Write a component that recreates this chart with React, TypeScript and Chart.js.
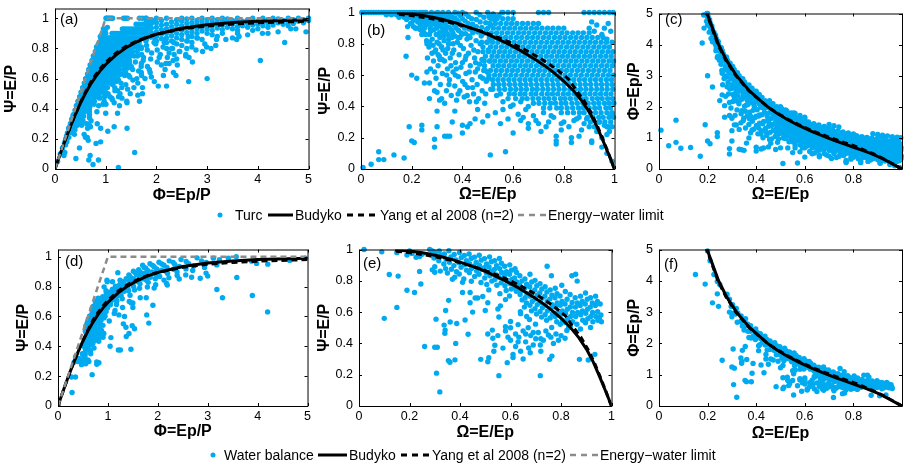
import React, { useEffect, useRef } from 'react';
import { Chart, registerables } from 'chart.js';

Chart.register(...registerables);

// ---------------- DATA ----------------
// Reference curves, read as (Phi = Ep/P, Psi = E/P)
const curvePhi = [0, 0.02, 0.05, 0.1, 0.2, 0.3, 0.4, 0.5, 0.6, 0.7, 0.8, 0.9, 1.0, 1.2, 1.4, 1.6, 1.8, 2.0, 2.5, 3.0, 3.5, 4.0, 5.0, 7.0, 10, 20, 100, 1000];
const budykoPsi = [0, 0.0199, 0.0494, 0.0976, 0.1904, 0.2785, 0.3607, 0.4355, 0.5022, 0.5604, 0.6113, 0.6555, 0.6938, 0.7562, 0.8043, 0.8415, 0.8709, 0.894, 0.9338, 0.9573, 0.9717, 0.9807, 0.9901, 0.9962, 0.9983, 0.9996, 1.0, 1.0];
const yangPsi = [0, 0.0199, 0.0494, 0.0977, 0.1908, 0.2795, 0.3625, 0.4395, 0.508, 0.5735, 0.6247, 0.669, 0.7071, 0.7682, 0.8137, 0.848, 0.8742, 0.8944, 0.9285, 0.9487, 0.9615, 0.9701, 0.9806, 0.9899, 0.995, 0.9988, 0.99995, 1.0];
const limitPhi = [0, 1, 5];
const limitPsi = [0, 1, 1];

// Turc: upper band, columns of Phi with Psi values
const turcBandPhi = [1.8, 1.9, 2.0, 2.1, 2.2, 2.3, 2.4, 2.5, 2.6, 2.7, 2.8, 2.9, 3.0, 3.1, 3.2, 3.3, 3.4, 3.5, 3.6, 3.7, 3.8, 3.9, 4.0, 4.1, 4.2, 4.3, 4.4, 4.5, 4.6, 4.7, 4.8, 4.9, 5.0];
const turcBandPsi = [
  [0.86, 0.89, 0.92, 0.95, 0.98, 1.0], [0.875, 0.905, 0.935, 0.965, 0.99], [0.85, 0.88, 0.91, 0.94, 0.97, 1.0],
  [0.865, 0.895, 0.925, 0.955, 0.985], [0.87, 0.9, 0.93, 0.96, 1.0], [0.885, 0.915, 0.945, 0.975],
  [0.87, 0.9, 0.93, 0.96, 0.99], [0.89, 0.92, 0.95, 0.98, 1.0], [0.905, 0.935, 0.965, 0.995],
  [0.88, 0.91, 0.94, 0.97, 1.0], [0.9, 0.93, 0.96, 0.985], [0.915, 0.945, 0.975, 1.0],
  [0.9, 0.93, 0.96, 0.99], [0.92, 0.95, 0.975, 1.0], [0.935, 0.965, 0.99], [0.925, 0.955, 0.98, 1.0],
  [0.94, 0.97, 0.995], [0.93, 0.96, 0.985], [0.945, 0.975, 1.0], [0.95, 0.98], [0.94, 0.965, 0.99],
  [0.955, 0.985, 1.0], [0.96, 0.98], [0.95, 0.975, 1.0], [0.965, 0.99], [0.955, 0.98, 1.0],
  [0.97, 0.995], [0.96, 0.985], [0.975, 1.0], [0.965, 0.99], [0.98, 1.0], [0.97, 0.99], [0.985, 1.0],
];
// Turc: scattered dry points as [Phi, Psi]
const turcSparsePhiPsi = [
  [3.0, 0.6], [4.05, 0.72], [4.53, 0.84], [4.95, 0.91], [4.4, 0.91], [4.2, 0.9], [4.75, 0.93], [3.8, 0.89], [3.63, 0.88],
  [3.5, 0.87], [3.37, 0.86], [3.17, 0.82], [2.99, 0.81], [2.78, 0.79], [2.58, 0.76], [2.4, 0.73], [2.25, 0.7], [2.9, 0.86],
  [2.7, 0.84], [2.5, 0.82], [2.3, 0.8], [3.2, 0.88], [2.6, 0.8], [2.45, 0.78], [2.35, 0.76], [2.5, 0.86], [2.2, 0.84],
  [2.3, 0.85], [2.6, 0.85], [2.8, 0.87], [3.1, 0.89], [3.3, 0.9], [3.6, 0.92], [4.0, 0.93], [4.6, 0.95], [2.2, 0.8],
  [2.25, 0.77], [2.4, 0.83], [3.9, 0.92], [4.2, 0.94],
];
// Turc: dense core, rows of Psi with the Omega values seen on each row
const turcRowPsi = [0.27, 0.3, 0.33, 0.36, 0.39, 0.42, 0.45, 0.48, 0.51, 0.54, 0.57, 0.6, 0.63, 0.66, 0.69, 0.72, 0.75, 0.78, 0.81, 0.84, 0.87, 0.9, 0.93, 0.96, 0.98];
const turcRowOmega = [
  [0.975, 0.99],
  [0.905, 0.94, 0.962, 0.985],
  [0.86, 0.893, 0.915, 0.938, 0.955, 0.978, 0.996],
  [0.79, 0.815, 0.838, 0.862, 0.88, 0.905, 0.925, 0.947, 0.97, 0.99],
  [0.72, 0.745, 0.772, 0.79, 0.813, 0.835, 0.858, 0.877, 0.9, 0.922, 0.941, 0.966, 0.984],
  [0.68, 0.702, 0.725, 0.748, 0.767, 0.79, 0.808, 0.832, 0.853, 0.875, 0.896, 0.918, 0.938, 0.96, 0.979, 0.997],
  [0.61, 0.636, 0.655, 0.678, 0.7, 0.722, 0.741, 0.763, 0.787, 0.805, 0.826, 0.848, 0.87, 0.888, 0.912, 0.933, 0.951, 0.973, 0.992],
  [0.55, 0.585, 0.605, 0.628, 0.647, 0.671, 0.69, 0.713, 0.735, 0.755, 0.776, 0.798, 0.818, 0.84, 0.861, 0.882, 0.903, 0.924, 0.945, 0.966, 0.986],
  [0.52, 0.545, 0.567, 0.59, 0.611, 0.632, 0.653, 0.676, 0.695, 0.717, 0.738, 0.76, 0.781, 0.802, 0.824, 0.845, 0.866, 0.887, 0.908, 0.93, 0.95, 0.971, 0.993],
  [0.522, 0.543, 0.564, 0.586, 0.607, 0.629, 0.65, 0.671, 0.693, 0.714, 0.735, 0.757, 0.778, 0.8, 0.821, 0.842, 0.864, 0.885, 0.906, 0.928, 0.949, 0.97, 0.99],
  [0.497, 0.519, 0.54, 0.561, 0.583, 0.604, 0.626, 0.647, 0.668, 0.69, 0.711, 0.733, 0.754, 0.775, 0.797, 0.818, 0.839, 0.861, 0.882, 0.904, 0.925, 0.946, 0.968, 0.988],
  [0.505, 0.527, 0.548, 0.57, 0.591, 0.612, 0.634, 0.655, 0.677, 0.698, 0.719, 0.741, 0.762, 0.784, 0.805, 0.826, 0.848, 0.869, 0.891, 0.912, 0.933, 0.955, 0.976, 0.995],
  [0.49, 0.511, 0.533, 0.554, 0.576, 0.597, 0.618, 0.64, 0.661, 0.683, 0.704, 0.725, 0.747, 0.768, 0.79, 0.811, 0.832, 0.854, 0.875, 0.897, 0.918, 0.939, 0.961, 0.982],
  [0.521, 0.542, 0.563, 0.585, 0.606, 0.628, 0.649, 0.67, 0.692, 0.713, 0.735, 0.756, 0.777, 0.799, 0.82, 0.842, 0.863, 0.884, 0.906, 0.927, 0.949, 0.97, 0.991],
  [0.486, 0.507, 0.528, 0.55, 0.571, 0.593, 0.614, 0.635, 0.657, 0.678, 0.7, 0.721, 0.742, 0.764, 0.785, 0.807, 0.828, 0.849, 0.871, 0.892, 0.914, 0.935, 0.956, 0.978, 0.996],
  [0.517, 0.538, 0.56, 0.581, 0.602, 0.624, 0.645, 0.667, 0.688, 0.709, 0.731, 0.752, 0.774, 0.795, 0.816, 0.838, 0.859, 0.881, 0.902, 0.923, 0.945, 0.966, 0.987],
  [0.481, 0.503, 0.524, 0.546, 0.567, 0.588, 0.61, 0.631, 0.653, 0.674, 0.695, 0.717, 0.738, 0.76, 0.781, 0.802, 0.824, 0.845, 0.867, 0.888, 0.909, 0.931, 0.952, 0.974, 0.993],
  [0.511, 0.532, 0.554, 0.575, 0.597, 0.618, 0.639, 0.661, 0.682, 0.704, 0.725, 0.746, 0.768, 0.789, 0.811, 0.832, 0.853, 0.875, 0.896, 0.918, 0.939, 0.96, 0.98],
  [0.476, 0.497, 0.519, 0.54, 0.562, 0.583, 0.604, 0.626, 0.647, 0.669, 0.69, 0.711, 0.733, 0.754, 0.776, 0.797, 0.818, 0.84, 0.861, 0.883, 0.904, 0.925, 0.947, 0.968],
  [0.506, 0.527, 0.549, 0.57, 0.591, 0.613, 0.634, 0.656, 0.677, 0.698, 0.72, 0.741, 0.763, 0.784, 0.805, 0.827, 0.848, 0.87, 0.891, 0.912, 0.934, 0.955],
  [0.492, 0.514, 0.535, 0.556, 0.578, 0.599, 0.621, 0.642, 0.663, 0.685, 0.706, 0.728, 0.749, 0.77, 0.792, 0.813, 0.835, 0.856, 0.877, 0.9],
  [0.5, 0.522, 0.543, 0.565, 0.586, 0.607, 0.629, 0.65, 0.672, 0.693, 0.714, 0.736, 0.757, 0.779, 0.8],
  [0.508, 0.53, 0.551, 0.573, 0.594, 0.615, 0.637, 0.658, 0.68, 0.7],
  [0.516, 0.537, 0.559, 0.58, 0.6],
  [0.505, 0.526],
];
// Turc: medium-density zone left of the core as [Omega, Psi]
const turcMidOmegaPsi = [
  [0.262, 0.71], [0.268, 0.78], [0.274, 0.64], [0.281, 0.83], [0.286, 0.69], [0.291, 0.75], [0.296, 0.58], [0.3, 0.81],
  [0.304, 0.66], [0.309, 0.72], [0.313, 0.54], [0.317, 0.78], [0.321, 0.61], [0.326, 0.85], [0.329, 0.69], [0.334, 0.74],
  [0.337, 0.5], [0.341, 0.64], [0.345, 0.8], [0.349, 0.57], [0.352, 0.71], [0.356, 0.47], [0.359, 0.84], [0.363, 0.62],
  [0.366, 0.76], [0.37, 0.53], [0.373, 0.68], [0.377, 0.44], [0.38, 0.81], [0.384, 0.59], [0.387, 0.73], [0.39, 0.5],
  [0.394, 0.65], [0.397, 0.86], [0.401, 0.56], [0.404, 0.77], [0.407, 0.46], [0.411, 0.7], [0.414, 0.61], [0.418, 0.83],
  [0.421, 0.52], [0.424, 0.74], [0.428, 0.43], [0.431, 0.66], [0.434, 0.79], [0.438, 0.57], [0.441, 0.87], [0.444, 0.48],
  [0.448, 0.71], [0.451, 0.62], [0.454, 0.82], [0.458, 0.54], [0.461, 0.75], [0.464, 0.45], [0.468, 0.67], [0.471, 0.59],
  [0.474, 0.85], [0.478, 0.5], [0.481, 0.78], [0.484, 0.63], [0.488, 0.42], [0.491, 0.72], [0.494, 0.56], [0.497, 0.81],
  [0.3, 0.49], [0.318, 0.45], [0.335, 0.88], [0.355, 0.66], [0.372, 0.6], [0.392, 0.79], [0.41, 0.54], [0.427, 0.62],
  [0.445, 0.76], [0.46, 0.64], [0.477, 0.7], [0.492, 0.48], [0.32, 0.7], [0.36, 0.74], [0.4, 0.68], [0.44, 0.52],
  [0.48, 0.58], [0.347, 0.54], [0.383, 0.48], [0.419, 0.47], [0.455, 0.43], [0.39, 0.84], [0.43, 0.84], [0.47, 0.8],
  [0.29, 0.62], [0.31, 0.87], [0.338, 0.6], [0.376, 0.64], [0.414, 0.72], [0.452, 0.68], [0.487, 0.66],
  [0.503, 0.58], [0.512, 0.51], [0.535, 0.47], [0.498, 0.62], [0.509, 0.69], [0.502, 0.76], [0.512, 0.82],
];
// Turc: other points as [Omega, Psi]
const turcSparseOmegaPsi = [
  [0.26, 0.80], [0.28, 0.74], [0.24, 0.86], [0.22, 0.90], [0.20, 0.93], [0.27, 0.86], [0.25, 0.9],
  [0.9, 0.9], [0.92, 0.88], [0.95, 0.86], [0.97, 0.83], [0.99, 0.81], [0.93, 0.92], [0.96, 0.9], [0.985, 0.88],
  [0.91, 0.94], [0.975, 0.93],
  [0.66, 0.26], [0.69, 0.31], [0.73, 0.27], [0.76, 0.33], [0.79, 0.29], [0.82, 0.27], [0.84, 0.31], [0.87, 0.25],
  [0.89, 0.32], [0.93, 0.24], [0.95, 0.2], [0.64, 0.33], [0.71, 0.24], [0.86, 0.21], [0.9, 0.27],
  [0.008, 0.01], [0.04, 0.03], [0.07, 0.06], [0.07, 0.11], [0.09, 0.06], [0.13, 0.09], [0.17, 0.07], [0.19, 0.27],
  [0.20, 0.18], [0.21, 0.17], [0.24, 0.28], [0.24, 0.25], [0.29, 0.14], [0.29, 0.19], [0.30, 0.27], [0.30, 0.37],
  [0.33, 0.21], [0.34, 0.21], [0.35, 0.21], [0.36, 0.30], [0.37, 0.37], [0.40, 0.28], [0.40, 0.23], [0.43, 0.29],
  [0.42, 0.27], [0.45, 0.32], [0.46, 0.38], [0.48, 0.30], [0.50, 0.34], [0.51, 0.09], [0.53, 0.36], [0.55, 0.29],
  [0.56, 0.38], [0.57, 0.11], [0.58, 0.32], [0.59, 0.40], [0.60, 0.23], [0.62, 0.35], [0.63, 0.31], [0.65, 0.38],
  [0.66, 0.29], [0.68, 0.34], [0.70, 0.29], [0.72, 0.36], [0.74, 0.30], [0.75, 0.34], [0.77, 0.16], [0.77, 0.18],
  [0.77, 0.21], [0.79, 0.25], [0.80, 0.30], [0.83, 0.20], [0.83, 0.17], [0.85, 0.32], [0.88, 0.29], [0.91, 0.18],
  [0.91, 0.17], [0.92, 0.27], [0.94, 0.30], [0.96, 0.28], [0.97, 0.22], [0.97, 0.27], [0.98, 0.24], [0.99, 0.35],
  [0.25, 0.55], [0.27, 0.55], [0.22, 0.58], [0.26, 0.62], [0.29, 0.50], [0.31, 0.44], [0.33, 0.42], [0.27, 0.45],
  [0.95, 0.14], [0.97, 0.1], [0.99, 0.05], [0.56, 0.43], [0.58, 0.45], [0.6, 0.41], [0.63, 0.43], [0.66, 0.4],
  [0.003, 1], [0.012, 1], [0.02, 1], [0.03, 1], [0.04, 1], [0.05, 1], [0.06, 1], [0.07, 1], [0.08, 1], [0.09, 1],
  [0.10, 1], [0.11, 1], [0.12, 1], [0.13, 1], [0.14, 1], [0.15, 1], [0.16, 1], [0.17, 1], [0.18, 1], [0.19, 1],
  [0.10, 0.985], [0.12, 0.985], [0.14, 0.985], [0.16, 0.985], [0.18, 0.985], [0.15, 0.97], [0.17, 0.97],
  [0.19, 0.97], [0.18, 0.955], [0.56, 1], [0.58, 1], [0.60, 1], [0.70, 1], [0.72, 1], [0.74, 1], [0.88, 1],
  [0.90, 1], [0.92, 1], [0.94, 1], [0.96, 1], [0.98, 1], [0.995, 1],
];

// Water balance: points as [Omega, Psi]
const waterOmegaPsi = [
  [0.02, 1.0], [0.09, 0.985], [0.15, 0.98], [0.19, 0.965], [0.21, 0.975], [0.226, 0.95], [0.2, 0.99], [0.25, 0.97],
  [0.28, 1.0], [0.29, 0.99], [0.24, 0.955],
  [0.10, 0.56], [0.12, 0.84], [0.155, 0.83], [0.15, 0.63], [0.19, 0.74], [0.22, 0.725], [0.245, 0.78], [0.26, 0.38],
  [0.30, 0.375], [0.31, 0.375], [0.307, 0.21], [0.32, 0.09], [0.305, 0.555], [0.337, 0.517], [0.341, 0.485],
  [0.34, 0.465], [0.354, 0.29], [0.36, 0.28], [0.361, 0.537], [0.343, 0.61], [0.355, 0.675], [0.38, 0.295],
  [0.383, 0.40], [0.387, 0.527], [0.42, 0.55], [0.432, 0.458], [0.41, 0.725], [0.44, 0.66], [0.47, 0.69],
  [0.482, 0.298], [0.45, 0.6], [0.49, 0.7], [0.5, 0.61], [0.24, 0.86], [0.30, 0.89], [0.35, 0.85], [0.37, 0.81],
  [0.41, 0.79], [0.44, 0.725], [0.46, 0.69], [0.51, 0.66], [0.56, 0.64], [0.55, 0.62], [0.58, 0.68], [0.554, 0.569],
  [0.58, 0.506], [0.6, 0.54], [0.63, 0.52], [0.64, 0.59], [0.3, 0.855], [0.29, 0.87],
  [0.51, 0.46], [0.528, 0.485], [0.53, 0.433], [0.538, 0.388], [0.534, 0.35], [0.514, 0.308], [0.51, 0.283],
  [0.554, 0.194], [0.57, 0.37], [0.55, 0.45], [0.587, 0.277], [0.6, 0.42], [0.61, 0.33], [0.62, 0.46], [0.633, 0.44],
  [0.64, 0.35], [0.65, 0.48], [0.66, 0.41], [0.672, 0.371], [0.678, 0.34], [0.68, 0.45], [0.69, 0.39], [0.7, 0.43],
  [0.71, 0.47], [0.718, 0.39], [0.718, 0.194], [0.72, 0.35], [0.73, 0.42], [0.74, 0.48], [0.75, 0.454],
  [0.755, 0.298], [0.764, 0.319], [0.77, 0.4], [0.78, 0.46], [0.79, 0.42], [0.8, 0.45], [0.816, 0.433], [0.83, 0.5],
  [0.873, 0.298], [0.908, 0.294], [0.934, 0.33], [0.6, 0.5], [0.58, 0.48], [0.67, 0.5], [0.62, 0.38], [0.65, 0.3],
  [0.59, 0.44], [0.69, 0.47], [0.61, 0.31], [0.66, 0.46], [0.63, 0.41], [0.76, 0.44], [0.72, 0.43],
  [0.303, 0.98], [0.297, 0.945], [0.318, 0.99], [0.324, 0.962], [0.316, 0.928], [0.322, 0.862],
  [0.338, 0.972], [0.345, 0.938], [0.336, 0.907], [0.343, 0.878], [0.356, 0.992], [0.364, 0.953], [0.358, 0.918],
  [0.366, 0.874], [0.377, 0.968], [0.384, 0.934], [0.376, 0.897], [0.386, 0.858], [0.379, 0.823], [0.398, 0.981],
  [0.405, 0.948], [0.396, 0.916], [0.404, 0.887], [0.397, 0.843], [0.417, 0.962], [0.425, 0.928], [0.418, 0.902],
  [0.426, 0.868], [0.415, 0.812], [0.436, 0.972], [0.444, 0.943], [0.438, 0.909], [0.446, 0.879], [0.437, 0.852],
  [0.445, 0.797], [0.457, 0.951], [0.464, 0.918], [0.455, 0.893], [0.466, 0.862], [0.458, 0.828], [0.476, 0.963],
  [0.484, 0.932], [0.477, 0.898], [0.486, 0.873], [0.475, 0.842], [0.483, 0.789], [0.497, 0.942], [0.505, 0.907],
  [0.496, 0.884], [0.504, 0.851], [0.498, 0.818], [0.506, 0.776], [0.517, 0.953], [0.524, 0.922], [0.515, 0.888],
  [0.523, 0.862], [0.518, 0.832], [0.526, 0.798], [0.514, 0.742], [0.537, 0.928], [0.545, 0.897], [0.536, 0.872],
  [0.544, 0.838], [0.538, 0.808], [0.546, 0.772], [0.556, 0.943], [0.564, 0.912], [0.557, 0.878], [0.565, 0.853],
  [0.555, 0.822], [0.563, 0.788], [0.558, 0.718], [0.577, 0.893], [0.584, 0.858], [0.576, 0.832], [0.585, 0.801],
  [0.578, 0.768], [0.583, 0.738], [0.597, 0.902], [0.604, 0.868], [0.596, 0.842], [0.605, 0.808], [0.598, 0.783],
  [0.603, 0.748], [0.596, 0.703], [0.618, 0.878], [0.624, 0.853], [0.616, 0.818], [0.625, 0.792], [0.617, 0.758],
  [0.623, 0.733],
  [0.637, 0.832], [0.645, 0.798], [0.636, 0.772], [0.644, 0.738], [0.638, 0.712], [0.646, 0.678], [0.639, 0.603],
  [0.657, 0.812], [0.664, 0.778], [0.656, 0.753], [0.665, 0.718], [0.658, 0.692], [0.663, 0.658], [0.655, 0.632],
  [0.664, 0.572], [0.677, 0.842], [0.684, 0.792], [0.676, 0.762], [0.685, 0.728], [0.678, 0.702], [0.686, 0.668],
  [0.677, 0.643], [0.683, 0.608], [0.675, 0.553], [0.697, 0.803], [0.704, 0.768], [0.696, 0.742], [0.705, 0.708],
  [0.698, 0.683], [0.706, 0.648], [0.697, 0.622], [0.703, 0.588], [0.699, 0.523], [0.717, 0.782], [0.724, 0.748],
  [0.716, 0.722], [0.725, 0.688], [0.718, 0.662], [0.726, 0.628], [0.717, 0.603], [0.723, 0.568], [0.745, 0.893],
  [0.737, 0.762], [0.744, 0.728], [0.736, 0.702], [0.745, 0.668], [0.738, 0.642], [0.746, 0.608], [0.737, 0.583],
  [0.743, 0.548], [0.762, 0.832], [0.757, 0.742], [0.764, 0.708], [0.756, 0.683], [0.765, 0.648], [0.758, 0.622],
  [0.766, 0.588], [0.757, 0.563], [0.763, 0.502], [0.777, 0.752], [0.784, 0.718], [0.776, 0.692], [0.785, 0.658],
  [0.778, 0.633], [0.786, 0.598], [0.777, 0.572], [0.783, 0.538], [0.803, 0.772], [0.796, 0.703], [0.804, 0.668],
  [0.797, 0.643], [0.805, 0.608], [0.798, 0.583], [0.806, 0.548], [0.797, 0.522], [0.817, 0.732], [0.824, 0.682],
  [0.816, 0.652], [0.825, 0.618], [0.818, 0.592], [0.826, 0.558], [0.817, 0.533], [0.823, 0.482], [0.843, 0.832],
  [0.836, 0.712], [0.844, 0.662], [0.837, 0.633], [0.845, 0.598], [0.838, 0.572], [0.846, 0.538], [0.837, 0.512],
  [0.858, 0.842], [0.864, 0.798], [0.856, 0.692], [0.865, 0.658], [0.857, 0.632], [0.866, 0.598], [0.858, 0.572],
  [0.863, 0.522], [0.877, 0.702], [0.884, 0.668], [0.876, 0.642], [0.885, 0.608], [0.878, 0.583], [0.886, 0.548],
  [0.877, 0.492], [0.897, 0.722], [0.904, 0.682], [0.896, 0.652], [0.905, 0.618], [0.898, 0.592], [0.906, 0.558],
  [0.897, 0.532], [0.917, 0.692], [0.924, 0.658], [0.916, 0.632], [0.925, 0.598], [0.918, 0.572], [0.926, 0.538],
  [0.917, 0.502], [0.937, 0.702], [0.944, 0.668], [0.936, 0.642], [0.945, 0.603], [0.938, 0.572], [0.946, 0.548],
  [0.955, 0.652], [0.958, 0.582], [0.952, 0.562], [0.96, 0.538],
];

// ---------------- STYLE ----------------
const FONT = '"Liberation Sans", Arial, Helvetica, sans-serif';
const POINT_COLOR = 'rgb(0,170,240)';
const LIMIT_COLOR = 'rgb(140,140,140)';

type Triple = { phi: number; psi: number; omega: number };
const fromPhiPsi = (phi: number, psi: number): Triple => ({ phi, psi, omega: phi > 0 ? psi / phi : 1 });
const fromOmegaPsi = (omega: number, psi: number): Triple => ({ omega, psi, phi: psi / omega });

function buildTurc(): Triple[] {
  const out: Triple[] = [];
  turcBandPhi.forEach((phi, i) => turcBandPsi[i].forEach((psi) => out.push(fromPhiPsi(phi, psi))));
  turcSparsePhiPsi.forEach(([phi, psi]) => out.push(fromPhiPsi(phi, psi)));
  turcRowPsi.forEach((psi, i) => turcRowOmega[i].forEach((om) => out.push(fromOmegaPsi(om, psi))));
  turcMidOmegaPsi.forEach(([om, psi]) => out.push(fromOmegaPsi(om, psi)));
  turcSparseOmegaPsi.forEach(([om, psi]) => out.push(fromOmegaPsi(om, psi)));
  return out;
}
function buildWater(): Triple[] {
  return waterOmegaPsi.map(([om, psi]) => fromOmegaPsi(om, psi));
}
const curveTriples = (psis: number[]) => curvePhi.map((phi, i) => fromPhiPsi(phi, psis[i]));
const limitTriples = limitPhi.map((phi, i) => fromPhiPsi(phi, limitPsi[i]));

type View = 'a' | 'b' | 'c';
const project = (t: Triple, v: View) =>
  v === 'a' ? { x: t.phi, y: t.psi } : v === 'b' ? { x: t.omega, y: t.psi } : { x: t.omega, y: t.phi };

interface PanelCfg {
  label: string; view: View; data: Triple[];
  L: number; T: number; R: number; B: number;
  xMax: number; xStep: number; yMax: number; yStep: number; hideLastX: boolean;
  xTitle: string; yTitle: string; xTitleY: number; yTitleX: number;
  labelX: number; labelY: number;
}

const fmt = (v: number) => String(Math.round(v * 1000) / 1000);

const framePlugin = {
  id: 'frame',
  afterDraw(chart: any, _a: any, o: any) {
    const { ctx, chartArea } = chart;
    const { left, right, top, bottom } = chartArea;
    const xs = chart.scales.x;
    const ys = chart.scales.y;
    ctx.save();
    ctx.strokeStyle = '#000';
    ctx.lineWidth = 1;
    ctx.beginPath();
    ctx.rect(left + 0.5, top + 0.5, right - left, bottom - top);
    ctx.stroke();
    ctx.beginPath();
    xs.ticks.forEach((t: any) => {
      const px = Math.round(xs.getPixelForValue(t.value)) + 0.5;
      ctx.moveTo(px, bottom); ctx.lineTo(px, bottom - 3);
      ctx.moveTo(px, top); ctx.lineTo(px, top + 3);
    });
    ys.ticks.forEach((t: any) => {
      const py = Math.round(ys.getPixelForValue(t.value)) + 0.5;
      ctx.moveTo(left, py); ctx.lineTo(left + 3, py);
      ctx.moveTo(right, py); ctx.lineTo(right - 3, py);
    });
    ctx.stroke();
    ctx.fillStyle = '#000';
    ctx.font = `bold 16px ${FONT}`;
    ctx.textAlign = 'center';
    ctx.textBaseline = 'middle';
    ctx.fillText(o.xTitle, (left + right) / 2, o.xTitleY);
    ctx.save();
    ctx.translate(o.yTitleX, (top + bottom) / 2);
    ctx.rotate(-Math.PI / 2);
    ctx.fillText(o.yTitle, 0, 0);
    ctx.restore();
    ctx.font = `15px ${FONT}`;
    ctx.textAlign = 'left';
    ctx.fillText(o.label, o.labelX, o.labelY);
    ctx.restore();
  },
};

function Panel({ cfg }: { cfg: PanelCfg }) {
  const ref = useRef<HTMLCanvasElement>(null);
  const padR = Math.min(5, 906 - cfg.R);
  const cLeft = cfg.L - 55;
  const cTop = cfg.T - 10;
  const width = cfg.R + padR - cLeft;
  const height = cfg.B + 40 - cTop;

  useEffect(() => {
    const inRange = (p: { x: number; y: number }) => p.x >= 0 && p.x <= cfg.xMax && p.y >= 0 && p.y <= cfg.yMax;
    const pts = cfg.data.map((t) => project(t, cfg.view)).filter(inRange);
    const keep = (arr: Triple[]) => arr.filter((t) => t.phi <= 7).map((t) => project(t, cfg.view));
    const lineDs = (data: any[], color: string, width: number, dash: number[], order: number) => ({
      type: 'line' as const, data, showLine: true, borderColor: color, borderWidth: width, borderDash: dash,
      pointRadius: 0, fill: false, tension: 0, clip: 0, order,
    });
    const datasets: any[] = [
      { type: 'scatter', data: pts, pointRadius: 2.7, pointBackgroundColor: POINT_COLOR, pointBorderWidth: 0,
        pointBorderColor: POINT_COLOR, clip: 4, order: 4 },
      lineDs(keep(curveTriples(budykoPsi)), '#000', 3, [], 3),
      lineDs(keep(curveTriples(yangPsi)), '#000', 3, [6, 4], 2),
    ];
    if (cfg.view === 'a') datasets.push(lineDs(limitTriples.map((t) => project(t, 'a')), LIMIT_COLOR, 2.5, [6, 4], 1));

    const axisCommon = (max: number, step: number, isX: boolean) => ({
      type: 'linear' as const, min: 0, max,
      grid: { display: false, drawTicks: false }, border: { display: false },
      ticks: {
        stepSize: step, includeBounds: false, autoSkip: false, maxRotation: 0, color: '#000',
        padding: isX ? 3 : 6, font: { family: FONT, size: 12.5 },
        callback: (v: any) => (isX && cfg.hideLastX && Math.abs(v - max) < 1e-6 ? '' : fmt(Number(v))),
      },
      afterFit: (s: any) => { if (isX) s.height = 40; else s.width = 55; },
    });

    const chart = new Chart(ref.current as HTMLCanvasElement, {
      type: 'scatter',
      data: { datasets },
      plugins: [framePlugin],
      options: {
        responsive: false, animation: false, devicePixelRatio: 1, events: [],
        layout: { padding: { left: 0, right: padR, top: 10, bottom: 0 } },
        plugins: {
          legend: { display: false }, tooltip: { enabled: false },
          frame: {
            xTitle: cfg.xTitle, yTitle: cfg.yTitle, xTitleY: cfg.xTitleY - cTop, yTitleX: cfg.yTitleX - cLeft,
            label: cfg.label, labelX: cfg.labelX - cLeft, labelY: cfg.labelY - cTop,
          },
        } as any,
        scales: { x: axisCommon(cfg.xMax, cfg.xStep, true), y: axisCommon(cfg.yMax, cfg.yStep, false) } as any,
      },
    } as any);
    return () => chart.destroy();
  }, []);

  return (
    <canvas ref={ref} width={width} height={height}
      style={{ position: 'absolute', left: cLeft, top: cTop, width, height }} />
  );
}

function LegendRow({ y, dotX, first, textX, solid, budykoX, dash, yangX, gray, energyX }: any) {
  const t = { dominantBaseline: 'central', fontSize: 14, fontFamily: FONT, fill: '#000' } as any;
  return (
    <g>
      <circle cx={dotX} cy={y} r={2.5} fill={POINT_COLOR} />
      <text x={textX} y={y} {...t}>{first}</text>
      <line x1={solid[0]} x2={solid[1]} y1={y} y2={y} stroke="#000" strokeWidth={3} />
      <text x={budykoX} y={y} {...t}>Budyko</text>
      <line x1={dash[0]} x2={dash[1]} y1={y} y2={y} stroke="#000" strokeWidth={3} strokeDasharray="6 5" />
      <text x={yangX} y={y} {...t}>Yang et al 2008 (n=2)</text>
      <line x1={gray[0]} x2={gray[1]} y1={y} y2={y} stroke={LIMIT_COLOR} strokeWidth={2.5} strokeDasharray="6 5" />
      <text x={energyX} y={y} {...t}>Energy−water limit</text>
    </g>
  );
}

export default function App() {
  const turc = buildTurc();
  const water = buildWater();
  const PSI = 'Ψ=E/P', PHI_T = 'Φ=Ep/P', OM = 'Ω=E/Ep';
  const panels: PanelCfg[] = [
    { label: '(a)', view: 'a', data: turc, L: 55, T: 5, R: 310, B: 169, xMax: 5, xStep: 1, yMax: 1.065, yStep: 0.2, hideLastX: false,
      xTitle: PHI_T, yTitle: PSI, xTitleY: 196, yTitleX: 12, labelX: 60, labelY: 20 },
    { label: '(b)', view: 'b', data: turc, L: 361, T: 9, R: 616, B: 169, xMax: 1, xStep: 0.2, yMax: 1, yStep: 0.2, hideLastX: false,
      xTitle: OM, yTitle: PSI, xTitleY: 195, yTitleX: 326, labelX: 367, labelY: 31 },
    { label: '(c)', view: 'c', data: turc, L: 659, T: 10, R: 905, B: 169, xMax: 1, xStep: 0.2, yMax: 5, yStep: 1, hideLastX: true,
      xTitle: OM, yTitle: PHI_T, xTitleY: 195, yTitleX: 635, labelX: 665, labelY: 20 },
    { label: '(d)', view: 'a', data: water, L: 58, T: 246, R: 309, B: 406, xMax: 5, xStep: 1, yMax: 1.048, yStep: 0.2, hideLastX: false,
      xTitle: PHI_T, yTitle: PSI, xTitleY: 432, yTitleX: 24, labelX: 65, labelY: 262 },
    { label: '(e)', view: 'b', data: water, L: 359, T: 246, R: 613, B: 406, xMax: 1, xStep: 0.2, yMax: 1, yStep: 0.2, hideLastX: false,
      xTitle: OM, yTitle: PSI, xTitleY: 433, yTitleX: 325, labelX: 363, labelY: 264 },
    { label: '(f)', view: 'c', data: water, L: 659, T: 246, R: 905, B: 406, xMax: 1, xStep: 0.2, yMax: 5, yStep: 1, hideLastX: true,
      xTitle: OM, yTitle: PHI_T, xTitleY: 434, yTitleX: 635, labelX: 664, labelY: 265 },
  ];
  return (
    <div style={{ position: 'absolute', left: 0, top: 0, width: 906, height: 468, background: '#fff', overflow: 'hidden' }}>
      {panels.map((p) => <Panel key={p.label} cfg={p} />)}
      <svg width={906} height={468} style={{ position: 'absolute', left: 0, top: 0, pointerEvents: 'none' }}>
        <LegendRow y={215} dotX={220} first="Turc" textX={235} solid={[268, 293]} budykoX={295}
          dash={[347, 378]} yangX={380} gray={[518, 547]} energyX={548} />
        <LegendRow y={455} dotX={213} first="Water balance" textX={224} solid={[318, 347]} budykoX={349}
          dash={[401, 430]} yangX={432} gray={[570, 599]} energyX={600} />
      </svg>
    </div>
  );
}
